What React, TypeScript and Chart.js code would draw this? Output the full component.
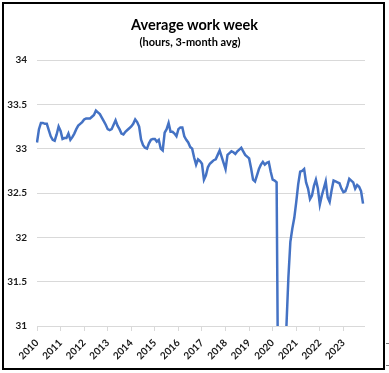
import React, { useEffect, useRef } from "react";
import { Chart, registerables } from "chart.js";

Chart.register(...registerables);

// Years shown on the category axis and month suffixes
const YEARS = [2010, 2011, 2012, 2013, 2014, 2015, 2016, 2017, 2018, 2019, 2020, 2021, 2022, 2023];
const MONTHS = ["01", "02", "03", "04", "05", "06", "07", "08", "09", "10", "11", "12"];

// Average work week, hours, 3-month avg (Jan 2010 – Nov 2023)
const HOURS_2010 = [33.07, 33.22, 33.29, 33.29, 33.28, 33.28, 33.21, 33.14, 33.10, 33.09, 33.16, 33.25];
const HOURS_2011 = [33.20, 33.11, 33.12, 33.12, 33.17, 33.10, 33.13, 33.17, 33.22, 33.26, 33.28, 33.30];
const HOURS_2012 = [33.33, 33.34, 33.34, 33.34, 33.36, 33.38, 33.43, 33.41, 33.39, 33.35, 33.31, 33.27];
const HOURS_2013 = [33.22, 33.21, 33.22, 33.27, 33.32, 33.26, 33.22, 33.17, 33.16, 33.19, 33.21, 33.23];
const HOURS_2014 = [33.25, 33.28, 33.33, 33.30, 33.25, 33.10, 33.04, 33.01, 33.00, 33.06, 33.10, 33.11];
const HOURS_2015 = [33.11, 33.08, 33.10, 33.00, 32.98, 33.18, 33.22, 33.29, 33.19, 33.19, 33.17, 33.14];
const HOURS_2016 = [33.22, 33.24, 33.24, 33.14, 33.10, 33.07, 33.02, 33.00, 32.90, 32.82, 32.88, 32.86];
const HOURS_2017 = [32.83, 32.65, 32.70, 32.79, 32.83, 32.85, 32.87, 32.88, 32.93, 32.98, 32.91, 32.84];
const HOURS_2018 = [32.77, 32.93, 32.95, 32.97, 32.96, 32.94, 32.97, 32.99, 33.01, 32.97, 32.93, 32.91];
const HOURS_2019 = [32.89, 32.78, 32.65, 32.63, 32.70, 32.77, 32.82, 32.85, 32.82, 32.84, 32.85, 32.74];
const HOURS_2020 = [32.65, 32.64, 32.62, 29.5, 28.5, 29.0, 29.8, 31.0, 31.55, 31.95, 32.1, 32.22];
const HOURS_2021 = [32.4, 32.6, 32.74, 32.75, 32.77, 32.62, 32.55, 32.43, 32.47, 32.58, 32.65, 32.55];
const HOURS_2022 = [32.37, 32.47, 32.55, 32.63, 32.45, 32.40, 32.53, 32.64, 32.63, 32.62, 32.61, 32.55];
const HOURS_2023 = [32.51, 32.52, 32.58, 32.66, 32.64, 32.62, 32.55, 32.59, 32.57, 32.52, 32.38];

const Y_MIN = 31;
const Y_MAX = 34;
const Y_STEP = 0.5;

const TITLE = "Average work week";
const SUBTITLE = "(hours, 3-month avg)";

const LABELS = YEARS.flatMap((y) => MONTHS.map((m) => `${y}-${m}`));
const HOURS = [
  ...HOURS_2010, ...HOURS_2011, ...HOURS_2012, ...HOURS_2013, ...HOURS_2014,
  ...HOURS_2015, ...HOURS_2016, ...HOURS_2017, ...HOURS_2018, ...HOURS_2019,
  ...HOURS_2020, ...HOURS_2021, ...HOURS_2022, ...HOURS_2023,
];

const FONT = "Lato, 'Open Sans', sans-serif";

export default function App() {
  const canvasRef = useRef<HTMLCanvasElement | null>(null);

  useEffect(() => {
    const canvas = canvasRef.current;
    if (!canvas) return;
    const isYear = (i: number) => LABELS[i] !== undefined && LABELS[i].endsWith("-01");
    const chart = new Chart(canvas, {
      type: "line",
      data: {
        labels: LABELS,
        datasets: [
          {
            data: HOURS,
            borderColor: "#4472C4",
            backgroundColor: "#4472C4",
            borderWidth: 2.5,
            pointRadius: 0,
            tension: 0,
            fill: false,
          },
        ],
      },
      options: {
        animation: false,
        responsive: false,
        devicePixelRatio: 1,
        layout: { padding: { left: 0, right: 24, top: 60, bottom: 0 } },
        plugins: {
          legend: { display: false },
          title: { display: false },
          tooltip: { enabled: false },
        },
        scales: {
          x: {
            type: "category",
            offset: false,
            grid: {
              drawOnChartArea: false,
              drawTicks: true,
              tickLength: 5,
              color: (ctx: any) => (isYear(ctx.index) ? "#d9d9d9" : "rgba(0,0,0,0)"),
            },
            border: { display: false },
            ticks: {
              autoSkip: false,
              minRotation: 45,
              maxRotation: 45,
              padding: 6,
              color: "#1a1a1a",
              font: { family: FONT, size: 10, weight: "bold" },
              callback: function (_v: any, index: number) {
                return isYear(index) ? LABELS[index].slice(0, 4) : "";
              },
            },
            afterFit: (scale: any) => {
              scale.height = 47;
            },
          },
          y: {
            min: Y_MIN,
            max: Y_MAX,
            grid: { color: "#d9d9d9", lineWidth: 1, drawTicks: false },
            border: { display: false },
            ticks: {
              stepSize: Y_STEP,
              padding: 10,
              color: "#1a1a1a",
              font: { family: FONT, size: 10, weight: "bold" },
              callback: (v: any) => String(Number(v)),
            },
            afterFit: (scale: any) => {
              scale.width = 37;
            },
          },
        },
      },
    });
    return () => chart.destroy();
  }, []);

  return (
    <div
      style={{
        position: "fixed",
        left: 0,
        top: 0,
        width: 389,
        height: 373,
        background: "#ffffff",
        overflow: "hidden",
      }}
    >
      <canvas
        ref={canvasRef}
        width={389}
        height={373}
        style={{ position: "absolute", left: 0, top: 0, width: 389, height: 373 }}
      />
      <div
        style={{
          position: "absolute",
          left: 0,
          top: 16,
          width: 389,
          textAlign: "center",
          fontFamily: FONT,
          fontWeight: "bold",
          fontSize: 14.5,
          lineHeight: "18px",
          color: "#000",
        }}
      >
        {TITLE}
      </div>
      <div
        style={{
          position: "absolute",
          left: 0,
          top: 35,
          width: 380,
          textAlign: "center",
          fontFamily: FONT,
          fontWeight: "bold",
          fontSize: 11,
          lineHeight: "14px",
          color: "#000",
        }}
      >
        {SUBTITLE}
      </div>
      <div
        style={{
          position: "absolute",
          left: 2,
          top: 2,
          width: 383,
          height: 368,
          boxSizing: "border-box",
          border: "2px solid #000",
          pointerEvents: "none",
        }}
      />
      <div style={{ position: "absolute", left: 386, top: 343, width: 3, height: 1, background: "#777" }} />
      <div style={{ position: "absolute", left: 386, top: 365, width: 3, height: 1, background: "#777" }} />
    </div>
  );
}
